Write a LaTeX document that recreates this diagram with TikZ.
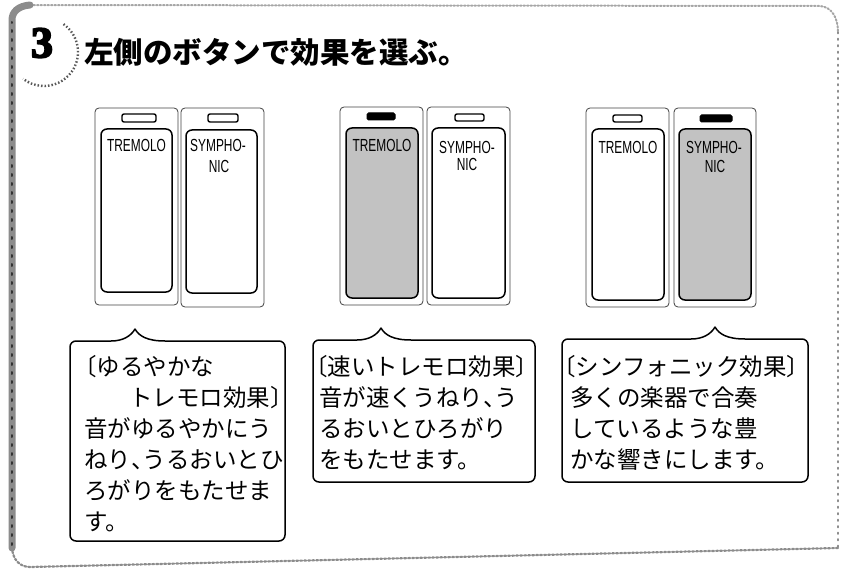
\documentclass[tikz,border=0pt]{standalone}
\usepackage{graphicx}
\usepackage{fontspec}
\newfontfamily\cjk{Noto Sans CJK JP}
\newfontfamily\labfont{Liberation Sans}
\newfontfamily\badgefont[BoldFeatures={FakeBold=4}]{Liberation Serif}
\newcommand\lbk{\makebox[0.5em][r]{〔}}
\newcommand\rbk{\makebox[0.5em][l]{〕}}
\newcommand\tc{\makebox[0.5em][l]{、}}
\newcommand\lab[1]{\scalebox{0.68}[1]{#1}}
\begin{document}
\begin{tikzpicture}[x=1pt,y=-1pt,
  outerbtn/.style={draw=black!75, line width=0.8pt, rounded corners=4pt},
  innerbtn/.style={draw=black, line width=1.5pt, rounded corners=6pt},
  innerlit/.style={innerbtn, fill=black!24},
  indoff/.style={draw=black, line width=1.4pt, rounded corners=2pt, fill=white},
  indon/.style={draw=black, fill=black, line width=1pt, rounded corners=1.5pt},
  btnlabel/.style={font=\labfont\fontsize{17.5}{17.5}\selectfont, inner sep=0pt, anchor=base},
  callout/.style={draw=black, line width=1.5pt, line join=round, line cap=round},
  body/.style={font=\cjk\fontsize{23.5}{23.5}\selectfont, anchor=base west, inner sep=0pt},
  frame/.style={line cap=round},
]
\useasboundingbox (0,0) rectangle (841,575);
% ---------- frame ----------
\draw[frame, draw=black!35, line width=2pt, dash pattern=on 1.5pt off 2pt]
  (30,5) -- (820,6) .. controls (832,7) and (838,18) .. (838,32);
\draw[frame, draw=black!45, line width=1.6pt, dash pattern=on 1.5pt off 5pt]
  (838,32) -- (838,548);
\draw[frame, draw=black!45, line width=2.2pt, dash pattern=on 2pt off 2pt]
  (838,548) -- (30,567) .. controls (20,567) and (13,560) .. (12,548);
\draw[frame, draw=black!45, line width=7pt]
  (12,548) -- (12,20) .. controls (12,12) and (18,6) .. (30,5);
\draw[frame, draw=black!80, line width=2pt, dash pattern=on 2pt off 7pt]
  (12,545) -- (12,22);
% ---------- badge and title ----------
\draw[draw=black!65, line width=2.4pt, dash pattern=on 1.5pt off 2pt]
  (44,52) ++(-55:34) arc[start angle=-55, end angle=128, radius=34];
\node[font=\badgefont\bfseries\fontsize{44}{44}\selectfont, inner sep=0pt] (badge) at (42,43) {3};
\node[font=\cjk\bfseries\fontsize{29.5}{29.5}\selectfont, anchor=base west, inner sep=0pt]
  (title) at (84,64) {左側のボタンで効果を選ぶ。};
% ---------- panel 1 ----------
\draw[outerbtn] (95,108) rectangle (178,305);
\draw[innerbtn] (101,129) rectangle (172,292);
\draw[indoff] (122,114) rectangle (156,122);
\node[btnlabel] (p1a) at (136.5,152) {\lab{TREMOLO}};
\draw[outerbtn] (181,108) rectangle (264,307);
\draw[innerbtn] (186,130) rectangle (257,293);
\draw[indoff] (208,114) rectangle (238,122);
\node[btnlabel] (p1b) at (218,152) {\lab{SYMPHO-}};
\node[btnlabel] (p1c) at (219,172) {\lab{NIC}};
% ---------- panel 2 ----------
\draw[outerbtn] (340,107) rectangle (423,305);
\draw[innerlit] (346,128) rectangle (418,298);
\draw[indon] (367,113) rectangle (395,120);
\node[btnlabel] (p2a) at (382,152) {\lab{TREMOLO}};
\draw[outerbtn] (427,107) rectangle (510,305);
\draw[innerbtn] (432,128) rectangle (505,298);
\draw[indoff] (455,114) rectangle (484,121);
\node[btnlabel] (p2b) at (467,154) {\lab{SYMPHO-}};
\node[btnlabel] (p2c) at (467,171) {\lab{NIC}};
% ---------- panel 3 ----------
\draw[outerbtn] (586,108) rectangle (669,307);
\draw[innerbtn] (592,129) rectangle (664,300);
\draw[indoff] (613,115) rectangle (642,122);
\node[btnlabel] (p3a) at (628,154) {\lab{TREMOLO}};
\draw[outerbtn] (674,108) rectangle (756,307);
\draw[innerlit] (679,129) rectangle (751,300);
\draw[indon] (700,115) rectangle (732,122);
\node[btnlabel] (p3b) at (714,154) {\lab{SYMPHO-}};
\node[btnlabel] (p3c) at (715,173) {\lab{NIC}};
% ---------- callouts ----------
\draw[callout] (165,341) [rounded corners=6pt] -- (285,341) -- (285,541) -- (70,541) -- (70,341) -- (105,341)
  [sharp corners] .. controls (123,341) and (131,336) .. (135,329) .. controls (139,336) and (147,341) .. (165,341);
\draw[callout] (411,340) [rounded corners=6pt] -- (535,340) -- (535,482) -- (313,482) -- (313,340) -- (351,340)
  [sharp corners] .. controls (369,340) and (377,335) .. (381,328) .. controls (385,335) and (393,340) .. (411,340);
\draw[callout] (745,339) [rounded corners=6pt] -- (808,339) -- (808,482) -- (562,482) -- (562,339) -- (685,339)
  [sharp corners] .. controls (703,339) and (711,334) .. (715,327) .. controls (719,334) and (727,339) .. (745,339);
% ---------- callout texts ----------
\node[body] (a1) at (85,375) {\lbk ゆるやかな};
\node[body] (a2) at (129,406) {トレモロ効果\rbk};
\node[body] (a3) at (84,437) {音がゆるやかにう};
\node[body] (a4) at (84,468) {ねり\tc うるおいとひ};
\node[body] (a5) at (84,499) {ろがりをもたせま};
\node[body] (a6) at (84,530) {す。};
\node[body] (b1) at (316,375) {\lbk 速いトレモロ効果\rbk};
\node[body] (b2) at (319,406) {音が速くうねり\tc う};
\node[body] (b3) at (319,437) {るおいとひろがり};
\node[body] (b4) at (319,468) {をもたせます。};
\node[body] (c1) at (564,375) {\lbk シンフォニック効果\rbk};
\node[body] (c2) at (570,406) {多くの楽器で合奏};
\node[body] (c3) at (570,437) {しているような豊};
\node[body] (c4) at (570,468) {かな響きにします。};
\end{tikzpicture}
\end{document}
